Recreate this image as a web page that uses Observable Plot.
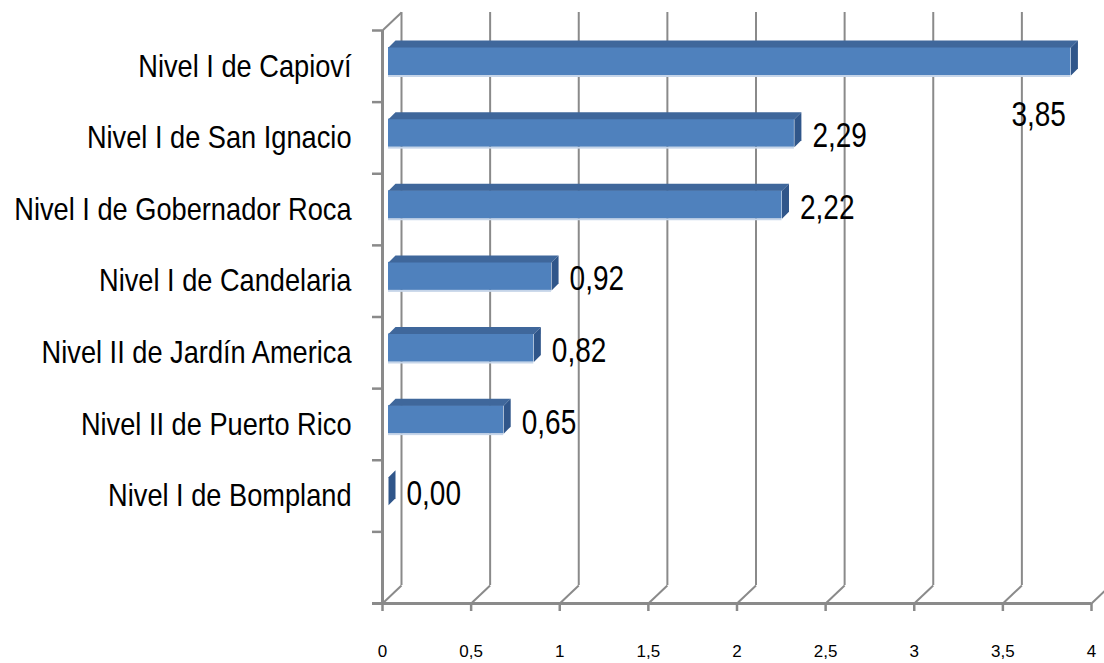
<!DOCTYPE html>
<html>
<head>
<meta charset="utf-8">
<script src="https://cdn.jsdelivr.net/npm/d3@7"></script>
<script src="https://cdn.jsdelivr.net/npm/@observablehq/plot@0.6"></script>
<style>
  html, body { margin: 0; padding: 0; background: #fff; }
  svg { display: block; }
</style>
</head>
<body>
<div id="chart"></div>
<script>
// ---- data ----
const categories = [
  "Nivel I de Capioví",
  "Nivel I de San Ignacio",
  "Nivel I de Gobernador Roca",
  "Nivel I de Candelaria",
  "Nivel II de Jardín America",
  "Nivel II de Puerto Rico",
  "Nivel I de Bompland"
];
const values = [3.85, 2.29, 2.22, 0.92, 0.82, 0.65, 0.00];
const xTicks = [0, 0.5, 1, 1.5, 2, 2.5, 3, 3.5, 4];

// ---- layout ----
const W = 1104, H = 663;
const mL = 382, mR = 13, mT = 30, mB = 60;
const nBands = categories.length + 1;
const kx = (W - mL - mR) / 4;          // px per x unit
const ky = (H - mT - mB) / nBands;     // px per band
const px = p => p / kx;
const py = p => p / ky;
const fmt = v => String(v).replace(".", ",");

const bars = categories.map((c, i) => ({cat: c, i, v: values[i]}));

// 3D geometry (pixel offsets converted to data units)
const BX = 6, D = 7, FT = 17, FB = 45;
const topFaces = bars.flatMap(b => [
  {id: b.i, x: px(BX), y: b.i + py(FT)},
  {id: b.i, x: b.v + px(BX), y: b.i + py(FT)},
  {id: b.i, x: b.v + px(BX + D), y: b.i + py(FT - D)},
  {id: b.i, x: px(BX + D), y: b.i + py(FT - D)}
]);
const sideFaces = bars.flatMap(b => [
  {id: b.i, x: b.v + px(BX), y: b.i + py(FT)},
  {id: b.i, x: b.v + px(BX + D), y: b.i + py(FT - D)},
  {id: b.i, x: b.v + px(BX + D), y: b.i + py(FB - D)},
  {id: b.i, x: b.v + px(BX), y: b.i + py(FB)}
]);

const WALL = 19;
const grey = "#8a8a8a";
const font = "'Liberation Sans', Arial, sans-serif";

const chart = Plot.plot({
  width: W, height: H,
  marginLeft: mL, marginRight: mR, marginTop: mT, marginBottom: mB,
  x: {domain: [0, 4], axis: null, label: null},
  y: {domain: [0, nBands], reverse: true, axis: null, label: null},
  style: {fontFamily: font, background: "#fff"},
  marks: [
    // back wall gridlines
    Plot.ruleX(xTicks.slice(0, -1), {x: d => d + px(WALL), y1: -py(WALL - 1), y2: nBands - py(WALL - 1), stroke: grey, strokeWidth: 2}),
    // floor diagonals
    Plot.link(xTicks, {x1: d => d, y1: nBands, x2: d => d + px(WALL), y2: nBands - py(WALL - 1), stroke: grey, strokeWidth: 2}),
    // left wall top diagonal
    Plot.link([0], {x1: 0, y1: 0, x2: px(WALL), y2: -py(WALL - 1), stroke: grey, strokeWidth: 2}),
    // left axis line
    Plot.ruleX([0], {y1: 0, y2: nBands, stroke: grey, strokeWidth: 3}),
    // left axis ticks at band boundaries
    Plot.ruleY(d3.range(nBands + 1), {x1: -px(10), x2: 0, stroke: grey, strokeWidth: 2.5}),
    // bottom axis line
    Plot.ruleY([nBands], {x1: -px(10), x2: 4, stroke: grey, strokeWidth: 3}),
    // bottom ticks + labels
    Plot.axisX({ticks: xTicks, label: null, tickSize: 8, tickPadding: 33, tickFormat: fmt, stroke: grey, strokeWidth: 2.5, fontSize: 17, fill: "#000"}),
    // category labels
    Plot.axisY({ticks: bars.map(b => b.i + 0.5), label: null, tickSize: 0, tickPadding: 31,
      tickFormat: d => categories[Math.floor(d)], fontSize: 32, fill: "#000", ariaLabel: "cat-labels"}),
    // bar front highlight
    Plot.rect(bars, {x1: px(BX), x2: d => d.v + px(BX), y1: d => d.i + py(FB), y2: d => d.i + py(FB + 2), fill: "#c6d5e9"}),
    // bar front faces
    Plot.rect(bars, {x1: px(BX), x2: d => d.v + px(BX), y1: d => d.i + py(FT), y2: d => d.i + py(FB), fill: "#4f81bd"}),
    // bar top faces
    Plot.line(topFaces, {x: "x", y: "y", z: "id", fill: "#3f679b", stroke: "none"}),
    // bar side faces
    Plot.line(sideFaces, {x: "x", y: "y", z: "id", fill: "#30568a", stroke: "none"}),
    // value labels
    Plot.text(bars.filter(b => b.i > 0), {x: d => d.v + px(BX + D + 11), y: d => d.i + 0.5 - py(2),
      text: d => d.v.toFixed(2).replace(".", ","), textAnchor: "start", fontSize: 35, fill: "#000", ariaLabel: "val-labels"}),
    Plot.text(bars.filter(b => b.i === 0), {x: d => d.v + px(BX - 5), y: d => d.i + py(84),
      text: d => d.v.toFixed(2).replace(".", ","), textAnchor: "end", fontSize: 35, fill: "#000", ariaLabel: "val-labels"})
  ]
});

document.getElementById("chart").appendChild(chart);

// horizontal condensing of the large labels (text stays text)
chart.querySelectorAll("text").forEach(t => {
  const fs = parseFloat(getComputedStyle(t).fontSize);
  let k = 1;
  if (fs >= 34) k = 0.8;
  else if (fs >= 30) k = 0.85;
  if (k !== 1) {
    const len = t.getComputedTextLength();
    t.setAttribute("textLength", (len * k).toFixed(1));
    t.setAttribute("lengthAdjust", "spacingAndGlyphs");
  }
});
</script>
</body>
</html>
